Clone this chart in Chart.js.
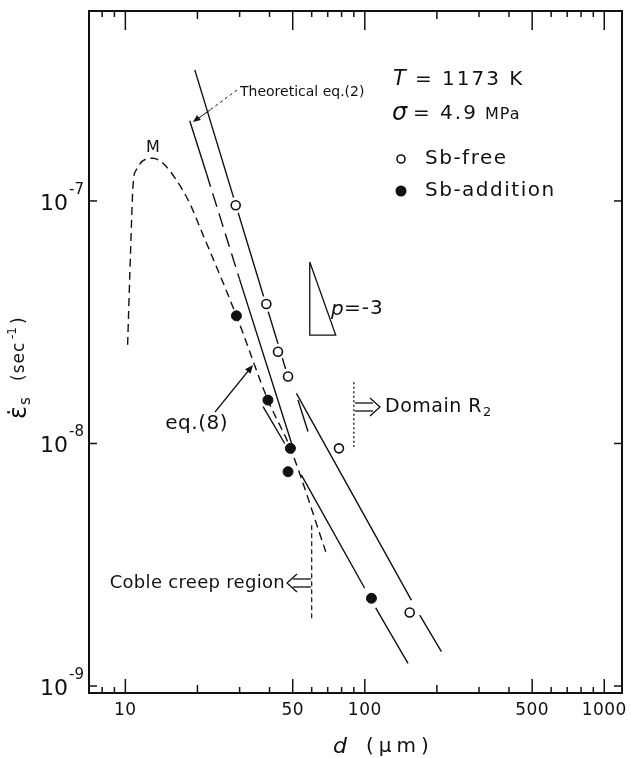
<!DOCTYPE html>
<html>
<head>
<meta charset="utf-8">
<title>Creep rate vs grain size</title>
<script src="https://cdn.jsdelivr.net/npm/chart.js@4.4.1/dist/chart.umd.min.js"></script>
<style>
  html, body { margin: 0; padding: 0; background: #fff; }
  canvas { display: block; }
</style>
</head>
<body>
<canvas id="creepChart" width="631" height="758"></canvas>
<script>
// grain size d (um) and steady-state creep rate (1/s)
const sbFreeSize = [28.9, 38.8, 43.4, 47.8, 78, 154];
const sbFreeRate = [9.6e-8, 3.76e-8, 2.39e-8, 1.89e-8, 9.55e-9, 2.01e-9];
const sbAddSize = [29.1, 39.4, 48.9, 47.8, 106.6];
const sbAddRate = [3.36e-8, 1.51e-8, 9.55e-9, 7.65e-9, 2.3e-9];

// lines as [d, rate] pairs, null breaks the line
const freeSteepLine = [[19.5, 3.47e-7], [48.8, 1.76e-8], null, [52.6, 1.51e-8], [57.9, 1.12e-8]];
const freeR2Line = [[51.8, 1.61e-8], [156.5, 2.26e-9], null, [169.6, 1.96e-9], [208.9, 1.385e-9]];
const addR2Line = [[37.6, 1.418e-8], [46.3, 1.0e-8], null, [54.3, 7.42e-9], [99.9, 2.53e-9], null, [111, 2.1e-9], [151.5, 1.24e-9]];
const theoryLine = [[18.57, 2.14e-7], [21.8, 1.3e-7], null, [30.0, 4.75e-8], [49.4, 1.005e-8]];
const theoryDashed = [[21.8, 1.3e-7], [30.0, 4.75e-8]];
const eq8Curve = [[10.22, 2.55e-8], [10.52, 6.28e-8], [10.76, 1.146e-7], [11.1, 1.342e-7], [13.04, 1.5e-7],
  [14.36, 1.43e-7], [16.33, 1.22e-7], [18.57, 9.78e-8], [20.43, 7.83e-8], [29.1, 3.36e-8],
  [39.4, 1.51e-8], [48.9, 9.55e-9], [68.7, 3.58e-9]];
const cobleLimit = [[60, 4.6e-9], [60, 1.87e-9]];
const domainR2Limit = [[90, 1.79e-8], [90, 9.67e-9]];
const slopeTriangle = [[58.9, 5.6e-8], [58.9, 2.8e-8], [75.6, 2.8e-8], [58.9, 5.6e-8]];

const xMajorTicks = [10, 50, 100, 500, 1000];
const xMinorTicks = [8, 9, 20, 30, 40, 60, 70, 80, 90, 200, 300, 400, 600, 700, 800, 900];
const yTickPowers = [-9, -8, -7];

const ink = '#111';
const face = '"DejaVu Sans", sans-serif';

function toPoints(list) {
  return list.map((p, i) => p ? { x: p[0], y: p[1] } : { x: list[i - 1][0], y: null });
}

function lineSet(list, dash, extra) {
  return Object.assign({
    data: toPoints(list),
    showLine: true,
    borderColor: ink,
    borderWidth: 1.4,
    borderDash: dash || [],
    pointRadius: 0,
    tension: 0,
    spanGaps: false,
    fill: false
  }, extra || {});
}

function seg(ctx, x1, y1, x2, y2) {
  ctx.beginPath();
  ctx.moveTo(x1, y1);
  ctx.lineTo(x2, y2);
  ctx.stroke();
}

function text(ctx, str, x, y, size, opts) {
  opts = opts || {};
  ctx.font = (opts.italic ? 'italic ' : '') + size + 'px ' + face;
  ctx.textAlign = opts.align || 'left';
  ctx.textBaseline = opts.baseline || 'middle';
  ctx.letterSpacing = (opts.ls || 0) + 'px';
  ctx.fillText(str, x, y);
  const w = ctx.measureText(str).width;
  ctx.letterSpacing = '0px';
  return w;
}

function arrowHead(ctx, x1, y1, x2, y2, size) {
  const a = Math.atan2(y2 - y1, x2 - x1);
  ctx.beginPath();
  ctx.moveTo(x2, y2);
  ctx.lineTo(x2 - size * Math.cos(a - 0.4), y2 - size * Math.sin(a - 0.4));
  ctx.lineTo(x2 - size * Math.cos(a + 0.4), y2 - size * Math.sin(a + 0.4));
  ctx.closePath();
  ctx.fill();
}

// frame, inward ticks, tick labels and all the lettering
const decorations = {
  id: 'decorations',
  afterDraw(chart) {
    const { ctx, chartArea: area, scales: { x, y } } = chart;
    const { left, right, top, bottom } = area;
    ctx.save();
    ctx.strokeStyle = ink;
    ctx.fillStyle = ink;

    ctx.lineWidth = 2;
    ctx.strokeRect(left, top, right - left, bottom - top);

    ctx.lineWidth = 1.5;
    xMajorTicks.forEach(v => {
      const px = x.getPixelForValue(v);
      seg(ctx, px, bottom, px, bottom - 14);
      seg(ctx, px, top, px, top + 19);
      text(ctx, String(v), px, 711, 17, { align: 'center', ls: 0.5 });
    });
    xMinorTicks.forEach(v => {
      const px = x.getPixelForValue(v);
      const len = (v === 20 || v === 200) ? 8 : 6;
      seg(ctx, px, bottom, px, bottom - len);
      seg(ctx, px, top, px, top + len);
    });
    yTickPowers.forEach(p => {
      const py = y.getPixelForValue(Math.pow(10, p));
      seg(ctx, left, py, left + 8, py);
      seg(ctx, right, py, right - 8, py);
      text(ctx, '10', 68, py + 3, 22, { align: 'right' });
      text(ctx, '-' + (-p), 69, py - 11, 15);
    });

    // axis titles
    text(ctx, 'd', 340, 747, 22, { italic: true, align: 'center' });
    text(ctx, '(μm)', 366, 747, 20, { ls: 5 });

    ctx.save();
    ctx.translate(26, 419);
    ctx.rotate(-Math.PI / 2);
    text(ctx, 'ε\u0307', 0, 0, 24, { baseline: 'alphabetic' });
    text(ctx, 's', 14, 4, 15, { baseline: 'alphabetic' });
    text(ctx, '(sec', 38, -2, 17, { baseline: 'alphabetic', ls: 1 });
    text(ctx, '-1', 80, -10, 12, { baseline: 'alphabetic' });
    text(ctx, ')', 95, -2, 17, { baseline: 'alphabetic' });
    ctx.restore();

    // conditions and legend
    text(ctx, 'T', 393, 80, 21, { italic: true });
    text(ctx, '= 1173 K', 415, 80, 20, { ls: 2 });
    text(ctx, 'σ', 392, 114, 24, { italic: true });
    text(ctx, '= 4.9', 413, 114, 20, { ls: 2 });
    text(ctx, 'MPa', 485, 115, 16, { ls: 1 });

    ctx.lineWidth = 1.6;
    ctx.beginPath();
    ctx.arc(401, 159, 4, 0, Math.PI * 2);
    ctx.stroke();
    ctx.beginPath();
    ctx.arc(401, 191, 5.5, 0, Math.PI * 2);
    ctx.fill();
    text(ctx, 'Sb-free', 425, 159, 20, { ls: 1.5 });
    text(ctx, 'Sb-addition', 425, 191, 20, { ls: 1.5 });

    // in-plot notes
    text(ctx, 'M', 153, 148, 16, { align: 'center' });
    text(ctx, 'Theoretical eq.(2)', 240, 92, 14);
    ctx.lineWidth = 1;
    ctx.setLineDash([3, 3]);
    seg(ctx, 237, 90, 210, 110);
    ctx.setLineDash([]);
    seg(ctx, 210, 110, 196, 120);
    arrowHead(ctx, 205, 113, 193, 122, 8);

    text(ctx, 'p', 331, 310, 20, { italic: true });
    text(ctx, '=-3', 344, 309, 20, { ls: 1 });

    text(ctx, 'eq.(8)', 228, 424, 20, { align: 'right', ls: 0.5 });
    ctx.lineWidth = 1.2;
    seg(ctx, 215, 412, 249, 370);
    arrowHead(ctx, 215, 412, 253, 365, 9);

    // hollow double arrows beside the domain limits
    ctx.lineWidth = 1.3;
    seg(ctx, 355, 403, 373, 403);
    seg(ctx, 355, 411, 373, 411);
    ctx.beginPath();
    ctx.moveTo(370, 398); ctx.lineTo(380, 407); ctx.lineTo(370, 416);
    ctx.stroke();
    const domW = text(ctx, 'Domain R', 385, 407, 19, { ls: 0.5 });
    text(ctx, '2', 385 + domW + 1, 413, 13);

    seg(ctx, 293, 579, 311, 579);
    seg(ctx, 293, 587, 311, 587);
    ctx.beginPath();
    ctx.moveTo(297, 574); ctx.lineTo(287, 583); ctx.lineTo(297, 592);
    ctx.stroke();
    text(ctx, 'Coble creep region', 285, 583, 18, { align: 'right', ls: 0.3 });

    ctx.restore();
  }
};

new Chart(document.getElementById('creepChart'), {
  type: 'scatter',
  data: {
    datasets: [
      {
        label: 'Sb-free',
        data: sbFreeSize.map((d, i) => ({ x: d, y: sbFreeRate[i] })),
        pointRadius: 4.5,
        pointBackgroundColor: '#fff',
        pointBorderColor: ink,
        pointBorderWidth: 1.6
      },
      {
        label: 'Sb-addition',
        data: sbAddSize.map((d, i) => ({ x: d, y: sbAddRate[i] })),
        pointRadius: 5,
        pointBackgroundColor: ink,
        pointBorderColor: ink,
        pointBorderWidth: 1
      },
      {
        // white halo so the fitted line breaks around the open circles
        label: 'halo',
        data: sbFreeSize.map((d, i) => ({ x: d, y: sbFreeRate[i] })),
        pointRadius: 8,
        pointBackgroundColor: '#fff',
        pointBorderWidth: 0
      },
      lineSet(freeSteepLine),
      lineSet(freeR2Line),
      lineSet(addR2Line),
      lineSet(theoryLine),
      lineSet(theoryDashed, [14, 7]),
      lineSet(eq8Curve, [8, 5], { cubicInterpolationMode: 'monotone' }),
      lineSet(cobleLimit, [5, 3], { borderWidth: 1.2 }),
      lineSet(domainR2Limit, [2, 2.5], { borderWidth: 1.3 }),
      lineSet(slopeTriangle, [], { borderWidth: 1.3 })
    ]
  },
  options: {
    responsive: false,
    animation: false,
    layout: { padding: { left: 89, top: 11, right: 9, bottom: 65 } },
    plugins: { legend: { display: false }, tooltip: { enabled: false } },
    scales: {
      x: { type: 'logarithmic', min: 7.05, max: 1186, display: false },
      y: { type: 'logarithmic', min: 9.36e-10, max: 6.07e-7, display: false }
    }
  },
  plugins: [decorations]
});
</script>
</body>
</html>
